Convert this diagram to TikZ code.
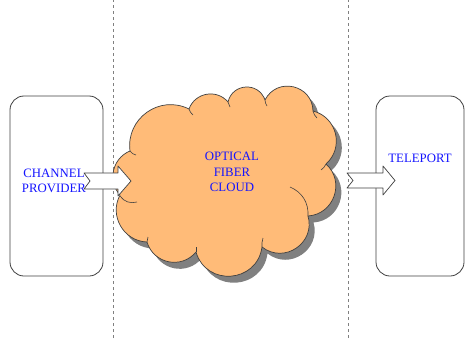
\documentclass[tikz,border=0pt]{standalone}
\usepackage{fontspec}
\setmainfont{Liberation Serif}
\usetikzlibrary{shadows,calc}
\definecolor{NetInk}{gray}{0.25}
\definecolor{NetGuide}{gray}{0.50}
\definecolor{NetCloud}{RGB}{255,187,120}
\definecolor{NetShadow}{gray}{0.50}
\definecolor{NetText}{RGB}{20,20,255}
\tikzset{
    net/diagram/.style={
        x=1pt, y=1pt,
        font=\fontsize{12.8}{15.5}\selectfont,
        line join=round,
        every node/.style={inner sep=0pt, outer sep=0pt}
    },
    net/divider/.style={draw=NetGuide, line width=0.8pt, dash pattern=on 3pt off 3pt},
    net/station/.style={
        draw=NetInk, line width=0.8pt, fill=white,
        rounded corners=14pt, minimum width=93pt, minimum height=180pt
    },
    net/cloud/.style={
        draw=NetInk, line width=0.7pt, fill=NetCloud,
        drop shadow={shadow xshift=5.5pt, shadow yshift=-6.5pt, fill=NetShadow, opacity=1}
    },
    net/puff/.style 2 args={bend left=#1, looseness=#2},
    net/crease/.style={draw=NetInk, line width=0.6pt},
    net/label/.style={text=NetText, align=center},
    net/flow/.style={draw=NetInk, line width=0.7pt, fill=white}
}

\begin{document}
\begin{tikzpicture}[net/diagram]
    \useasboundingbox (0,0) rectangle (465,338);
    % dividers
    \draw[net/divider] (113,0) -- (113,338);
    \draw[net/divider] (348,0) -- (348,338);
    % stations
    \node[net/station] (provider) at (56.5,152) {};
    \node[net/station, minimum width=88pt] (teleport) at (420,152) {};
    % cloud, puff by puff
    \draw[net/cloud] (120,143)
        to[net/puff={55}{1.08}] (130,187)
        to[net/puff={62}{1.16}] (189,229)
        to[net/puff={60}{1.13}] (228,236)
        to[net/puff={74}{1.34}] (265,238)
        to[net/puff={76}{1.37}] (313,227)
        to[net/puff={62}{1.16}] (326,174)
        to[net/puff={67}{1.22}] (308,122)
        to[net/puff={72}{1.30}] (262,91)
        to[net/puff={78}{1.41}] (196,86)
        to[net/puff={62}{1.16}] (147,96)
        to[net/puff={58}{1.11}] (120,143) -- cycle;
    % creases
    \draw[net/crease] (120,142) to[bend right=35] (137,136);
    \draw[net/crease] (130,187) to[bend right=20] (136,183);
    \draw[net/crease] (189,229) to[bend right=15] (193,223);
    \draw[net/crease] (228,236) to[bend right=15] (230,231);
    \draw[net/crease] (265,238) to[bend right=15] (267,232);
    \draw[net/crease] (313,227) to[bend right=15] (317,220);
    \draw[net/crease] (326,174) to[bend left=15] (321,168);
    \draw[net/crease] (290,151) to[bend left=35] (308,122);
    \draw[net/crease] (262,91) to[bend left=10] (263,100);
    \draw[net/crease] (196,86) to[bend left=10] (196,91);
    \draw[net/crease] (147,96) to[bend left=10] (148,101);
    % block arrows
    \coordinate (inTail) at (84,157);
    \coordinate (inTip) at (131,157);
    \coordinate (outTail) at (347,157.5);
    \coordinate (outTip) at (395,157.5);
    \draw[net/flow] ($(inTail)+(0,8)$) -- ($(inTip)+(-13,8)$) -- ($(inTip)+(-13,15)$)
        -- (inTip) -- ($(inTip)+(-13,-15)$) -- ($(inTip)+(-13,-8)$)
        -- ($(inTail)+(0,-8)$) -- ($(inTail)+(6,0)$) -- cycle;
    \draw[net/flow] ($(outTail)+(0,7.5)$) -- ($(outTip)+(-12,7.5)$) -- ($(outTip)+(-12,14.5)$)
        -- (outTip) -- ($(outTip)+(-12,-14.5)$) -- ($(outTip)+(-12,-7.5)$)
        -- ($(outTail)+(0,-7.5)$) -- ($(outTail)+(6,0)$) -- cycle;
    % texts
    \node[net/label] (providerText) at (54,157) {CHANNEL\\PROVIDER};
    \node[net/label] (fiberText) at (232,166) {OPTICAL\\FIBER\\CLOUD};
    \node[net/label] (teleportText) at (420,180) {TELEPORT};
\end{tikzpicture}
\end{document}
